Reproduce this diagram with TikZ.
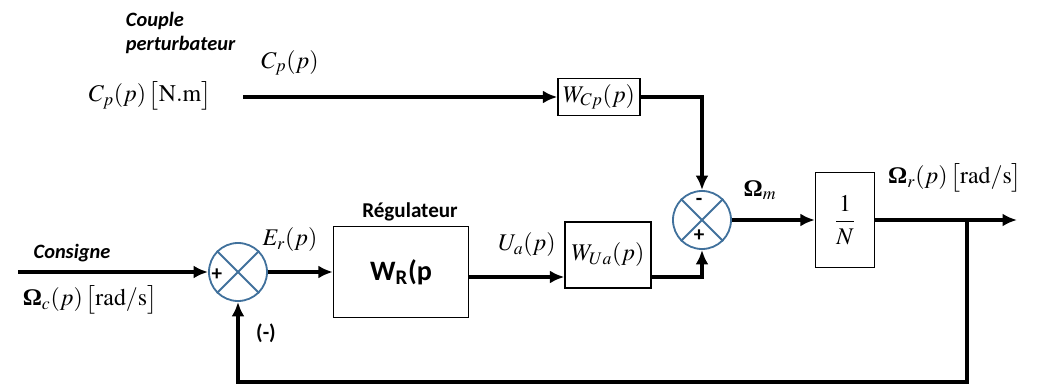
\documentclass[tikz,border=0pt]{standalone}
\usepackage{mathptmx}
\usepackage[no-math]{fontspec}
\setmainfont{Liberation Serif}
\setsansfont{Carlito}
\usetikzlibrary{positioning,arrows.meta,calc}
\definecolor{sumblue}{RGB}{65,113,156}
\newcommand{\bOmega}{\mbox{\bfseries Ω}}
\tikzset{
  flowarrow/.style={-{Latex[length=3.6mm,width=3.2mm]}, line width=2.6pt},
  blockbox/.style={draw, line width=0.9pt, fill=white, align=center, inner sep=1pt},
  sumnode/.style={draw=sumblue, circle, line width=1.3pt, minimum size=1.45cm, inner sep=0pt},
  tagtext/.style={font=\sffamily\bfseries\itshape\fontsize{14.5}{17}\selectfont, align=left},
  boldtext/.style={font=\sffamily\bfseries\fontsize{15}{17}\selectfont},
  signtext/.style={font=\sffamily\bfseries\fontsize{15}{17}\selectfont, inner sep=0pt},
  sigtext/.style={font=\fontsize{17}{19}\selectfont}
}

\begin{document}
\begin{tikzpicture}[x=0.025cm, y=-0.025cm]
  \useasboundingbox (0,0) rectangle (1061,387);
  % disturbance branch
  \node[tagtext, anchor=west] (couple) at (121,33) {Couple\\perturbateur};
  \node[sigtext] (cpin) at (150,96) {$C_p(p)\,\big[\mathrm{N.m}\big]$};
  \node[sigtext] (cplab) at (290,63) {$C_p(p)$};
  \coordinate (cpstart) at (243,97);
  \node[blockbox, minimum width=2.05cm, minimum height=0.925cm, sigtext] (wcp) at (599,97) {$W_{Cp}(p)$};
  % main chain
  \node[tagtext] (consigne) at (72,253) {Consigne};
  \node[sigtext] (omc) at (90,300) {$\bOmega_c(p)\,\big[\mathrm{rad/s}\big]$};
  \coordinate (cin) at (18,272);
  \node[sumnode] (s1) at (238,272) {};
  \node[blockbox, minimum width=3.375cm, minimum height=2.275cm, font=\sffamily\bfseries\fontsize{20}{22}\selectfont] (wr) at (401,272) {W\textsubscript{R}(p};
  \node[boldtext] (reg) at (410,212) {Régulateur};
  \node[sigtext] (er) at (290,240) {$E_r(p)$};
  \node[signtext] (fbsign) at (266,333) {(-)};
  \node[blockbox, minimum width=2.15cm, minimum height=1.65cm, sigtext] (wua) at (608,255) {$W_{Ua}(p)$};
  \node[sigtext] (ua) at (527,245) {$U_a(p)$};
  \coordinate (uain) at (0,277);
  \node[sumnode] (s2) at (702,220) {};
  \node[sigtext] (omm) at (760,190) {$\bOmega_m$};
  \node[blockbox, minimum width=1.475cm, minimum height=2.375cm, sigtext] (nbox) at (845,220) {$\displaystyle\frac{1}{N}$};
  \node[sigtext] (omr) at (955,178) {$\bOmega_r(p)\,\big[\mathrm{rad/s}\big]$};
  \coordinate (br) at (967,220);
  \coordinate (out) at (1017,220);
  \coordinate (fb) at (967,382);
  % crosses and signs of the summers
  \foreach \s in {s1,s2}{
    \draw[sumblue, line width=1.3pt] (\s.north east) -- (\s.south west);
    \draw[sumblue, line width=1.3pt] (\s.north west) -- (\s.south east);
  }
  \node[signtext] (p1) at ($(s1)+(-21,3)$) {+};
  \node[signtext] (m2) at ($(s2)+(-3,-18)$) {-};
  \node[signtext] (p2) at ($(s2)+(-3,16)$) {+};
  % connections
  \draw[flowarrow] (cpstart) -- (wcp.west);
  \draw[flowarrow] (wcp.east) -| (s2.north);
  \draw[flowarrow] (cin) -- (s1.west);
  \draw[flowarrow] (s1.east) -- (wr.west);
  \draw[flowarrow] (wr.east |- uain) -- (wua.west |- uain);
  \draw[flowarrow] (wua.east |- uain) -| (s2.south);
  \draw[flowarrow] (s2.east) -- (nbox.west);
  \draw[flowarrow] (nbox.east) -- (out);
  \draw[flowarrow] (br) -- (fb) -| (s1.south);
\end{tikzpicture}
\end{document}
